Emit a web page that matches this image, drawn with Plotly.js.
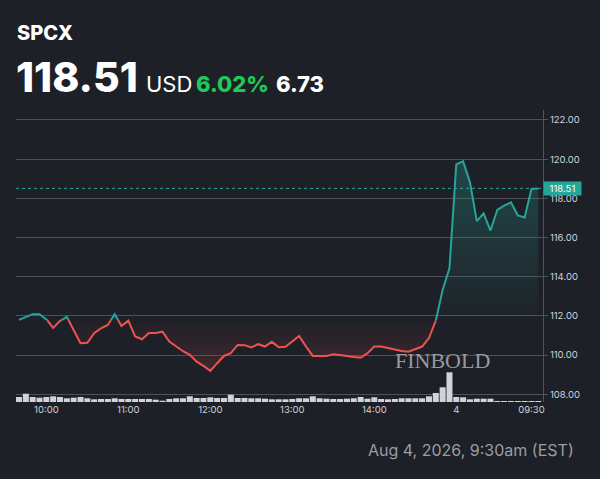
<!DOCTYPE html>
<html>
<head>
<meta charset="utf-8">
<script src="https://cdn.plot.ly/plotly-3.0.1.min.js"></script>
<style>
  html, body { margin: 0; padding: 0; background: #1e2027; }
  #chart { width: 600px; height: 479px; }
</style>
</head>
<body>
<div id="chart"></div>
<script>
// ---- data ----
const symbol = 'SPCX';
const currency = 'USD';
const lastPrice = 118.51;
const change = 6.73;
const changePct = '6.02%';
const dateLabel = 'Aug 4, 2026, 9:30am (EST)';
const watermark = 'FINBOLD';

const prices = [
  111.80, 111.95, 112.09, 112.09, 111.85, 111.39, 111.75, 111.95, 111.28, 110.61,
  110.63, 111.12, 111.37, 111.54, 112.09, 111.49, 111.76, 110.95, 110.81, 111.13,
  111.13, 111.20, 110.69, 110.44, 110.20, 110.02, 109.67, 109.45, 109.20, 109.59,
  109.96, 110.10, 110.52, 110.51, 110.39, 110.56, 110.44, 110.68, 110.41, 110.43,
  110.73, 110.98, 110.44, 109.96, 109.96, 109.96, 110.05, 110.02, 109.96, 109.90,
  109.87, 110.10, 110.44, 110.44, 110.37, 110.30, 110.21, 110.18, 110.32, 110.44,
  110.87, 111.76, 113.33, 114.43, 119.74, 119.89, 118.83, 116.84, 117.23, 116.36,
  117.41, 117.63, 117.80, 117.13, 117.03, 118.48, 118.51
];
const volumes = [
  5, 8.3, 5, 4.3, 5, 5.7, 5, 3.7, 4.3, 5,
  3.7, 2.7, 3, 3, 3.7, 3, 3, 3, 3, 3,
  2.3, 1.3, 3, 3.7, 3.7, 5.7, 4, 4, 4.7, 4,
  4, 7.3, 4, 4, 3.7, 3.7, 3.3, 2.7, 2.7, 2.7,
  3, 3.7, 3.7, 5.7, 3.7, 3.3, 3, 3, 3.3, 3.7,
  5, 3.3, 4.7, 3, 2.7, 3, 3.7, 3.7, 3.7, 3.7,
  5.7, 9, 14.7, 29.7, 5, 4.7, 2.7, 3.3, 3.3, 3.3,
  1, 1, 1, 1, 1, 1, 1
];
const xTickPos = [4, 16, 28, 40, 52, 64, 75];
const xTickLabels = ['10:00', '11:00', '12:00', '13:00', '14:00', '4', '09:30'];

// ---- build ----
const base = +(lastPrice - change).toFixed(2);
const idx = prices.map((_, i) => i);

const pts = [];
for (let i = 0; i < prices.length; i++) {
  pts.push({x: i, y: prices[i]});
  if (i < prices.length - 1) {
    const a = prices[i] - base, b = prices[i + 1] - base;
    if (a * b < 0) {
      const t = (base - prices[i]) / (prices[i + 1] - prices[i]);
      pts.push({x: i + t, y: base});
    }
  }
}
const px = pts.map(p => p.x);
const maxP = Math.max(...prices), minP = Math.min(...prices);

const TEAL = '#26a69a';
const RED = '#ef5350';
const BG = '#1e2027';
const GRID = '#4e5158';
const TXT = '#d1d4dc';

const traces = [
  {x: idx, y: volumes, type: 'bar', yaxis: 'y2', marker: {color: '#d1d3d9', line: {width: 0}},
   hoverinfo: 'skip', showlegend: false},
  {x: px, y: pts.map(() => base), mode: 'lines', line: {width: 0, color: 'rgba(0,0,0,0)'},
   hoverinfo: 'skip', showlegend: false},
  {x: px, y: pts.map(p => Math.max(p.y, base)), mode: 'lines', fill: 'tonexty',
   line: {width: 0, color: 'rgba(0,0,0,0)'},
   fillgradient: {type: 'vertical', start: base, stop: maxP,
     colorscale: [[0, 'rgba(38,166,154,0.02)'], [1, 'rgba(38,166,154,0.30)']]},
   hoverinfo: 'skip', showlegend: false},
  {x: px, y: pts.map(() => base), mode: 'lines', line: {width: 0, color: 'rgba(0,0,0,0)'},
   hoverinfo: 'skip', showlegend: false},
  {x: px, y: pts.map(p => Math.min(p.y, base)), mode: 'lines', fill: 'tonexty',
   line: {width: 0, color: 'rgba(0,0,0,0)'},
   fillgradient: {type: 'vertical', start: minP, stop: base,
     colorscale: [[0, 'rgba(239,83,80,0.16)'], [1, 'rgba(239,83,80,0.01)']]},
   hoverinfo: 'skip', showlegend: false},
  {x: px, y: pts.map(p => p.y >= base ? p.y : null), mode: 'lines', connectgaps: false,
   line: {color: TEAL, width: 2}, showlegend: false},
  {x: px, y: pts.map(p => p.y <= base ? p.y : null), mode: 'lines', connectgaps: false,
   line: {color: RED, width: 2}, showlegend: false}
];

// plot area: l=16, r=57, t=110, b=77 on 600x479
const L = 16, T = 110, W = 527, H = 292;
const pxX = v => (v - L) / W;
const pxY = v => (T + H - v) / H;
const FONT = 'Inter, "Open Sans", sans-serif';

const layout = {
  width: 600, height: 479,
  paper_bgcolor: BG, plot_bgcolor: BG,
  margin: {l: L, r: 600 - L - W, t: T, b: 479 - T - H, pad: 0},
  showlegend: false,
  bargap: 0.12,
  xaxis: {
    range: [-0.44, 76.69], showgrid: false, zeroline: false, showline: false,
    tickmode: 'array', tickvals: xTickPos, ticktext: xTickLabels,
    ticks: '', tickfont: {family: FONT, size: 9.5, color: TXT}, fixedrange: true
  },
  yaxis: {
    range: [107.61, 122.51], side: 'right', dtick: 2, tick0: 108, tickformat: '.2f',
    showgrid: true, gridcolor: GRID, gridwidth: 1, zeroline: false,
    showline: true, linecolor: '#50535a', linewidth: 1,
    ticks: 'outside', ticklen: 4, tickcolor: '#50535a',
    tickfont: {family: FONT, size: 9.5, color: TXT}, fixedrange: true
  },
  yaxis2: {overlaying: 'y', range: [0, H], visible: false, fixedrange: true},
  shapes: [
    {type: 'line', xref: 'paper', x0: 0, x1: 1, yref: 'y', y0: lastPrice, y1: lastPrice,
     line: {color: TEAL, width: 1, dash: 'dot'}}
  ],
  annotations: [
    {xref: 'paper', yref: 'paper', x: pxX(15), y: pxY(33), xanchor: 'left', yanchor: 'middle',
     text: symbol, showarrow: false, font: {family: FONT, size: 20, weight: 800, color: '#ffffff'}},
    {xref: 'paper', yref: 'paper', x: pxX(14), y: pxY(77), xanchor: 'left', yanchor: 'middle',
     text: lastPrice.toFixed(2), showarrow: false,
     font: {family: FONT, size: 41, weight: 800, color: '#ffffff'}},
    {xref: 'paper', yref: 'paper', x: pxX(144), y: pxY(84), xanchor: 'left', yanchor: 'middle',
     text: currency, showarrow: false, font: {family: FONT, size: 22, color: '#ffffff'}},
    {xref: 'paper', yref: 'paper', x: pxX(194), y: pxY(84), xanchor: 'left', yanchor: 'middle',
     text: changePct, showarrow: false, font: {family: FONT, size: 22, weight: 800, color: '#1fc95a'}},
    {xref: 'paper', yref: 'paper', x: pxX(274), y: pxY(84), xanchor: 'left', yanchor: 'middle',
     text: change.toFixed(2), showarrow: false, font: {family: FONT, size: 22, weight: 800, color: '#ffffff'}},
    {xref: 'paper', yref: 'paper', x: pxX(576), y: pxY(450), xanchor: 'right', yanchor: 'middle',
     text: dateLabel, showarrow: false, font: {family: FONT, size: 16, color: '#9a9da5'}},
    {xref: 'paper', yref: 'paper', x: pxX(442), y: pxY(360), xanchor: 'center', yanchor: 'middle',
     text: watermark, showarrow: false, font: {family: '"Liberation Serif", serif', size: 22, color: 'rgba(185,186,192,0.8)'}},
    {xref: 'paper', yref: 'y', x: 1, y: lastPrice, xanchor: 'left', yanchor: 'middle',
     text: lastPrice.toFixed(2), showarrow: false, bgcolor: TEAL, borderpad: 2, width: 33, height: 9,
     font: {family: FONT, size: 9.5, color: '#ffffff'}}
  ]
};

Plotly.newPlot('chart', traces, layout, {staticPlot: true, displayModeBar: false});
</script>
</body>
</html>
